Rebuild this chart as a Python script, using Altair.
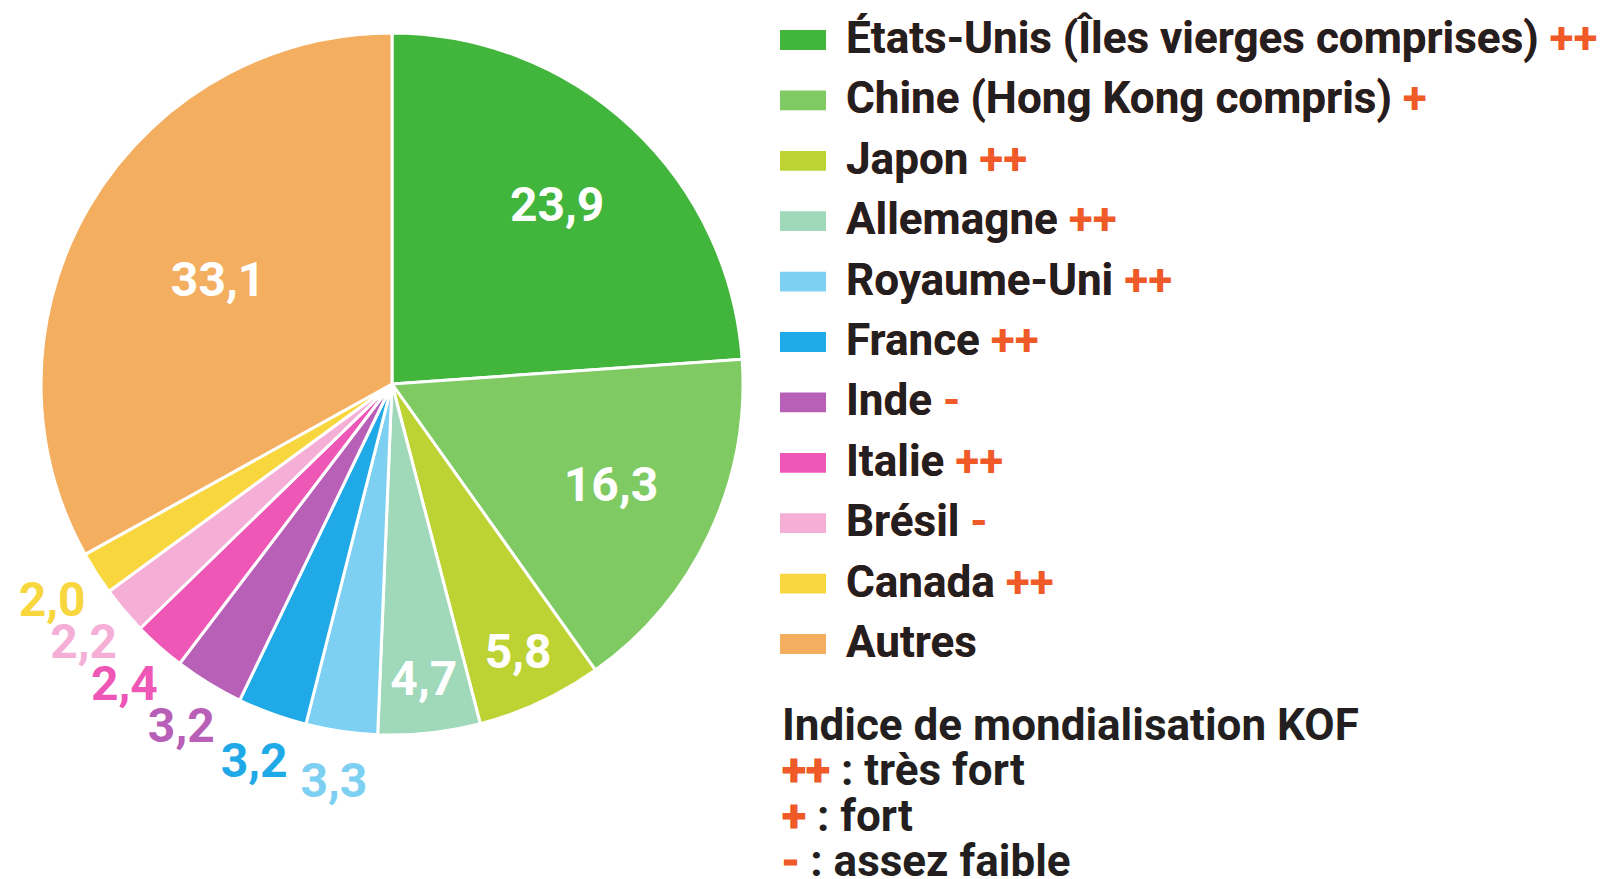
import altair as alt
import pandas as pd
import math

# ---- data ----
categories = [
    "États-Unis (Îles vierges comprises)",
    "Chine (Hong Kong compris)",
    "Japon",
    "Allemagne",
    "Royaume-Uni",
    "France",
    "Inde",
    "Italie",
    "Brésil",
    "Canada",
    "Autres",
]
values = [23.9, 16.3, 5.8, 4.7, 3.3, 3.2, 3.2, 2.4, 2.2, 2.0, 33.1]
kof_marks = ["++", "+", "++", "++", "++", "++", "-", "++", "-", "++", ""]
colors = [
    "#42b53c", "#7fca62", "#bdd333", "#9fd9ba", "#7ed0f3", "#1fa9e6",
    "#b85fb8", "#ee57b6", "#f5afd7", "#f8d73e", "#f4ae60",
]
kof_title = "Indice de mondialisation KOF"
kof_keys = ["++", "+", "-"]
kof_meanings = ["très fort", "fort", "assez faible"]

# ---- layout / style ----
FONT = "Roboto"
ORANGE = "#f05a28"
DARK = "#231f20"
CX, CY, R = 392, 384, 351
INSIDE_MIN = 4.5


def label_radius(v):
    """Radial position of a slice's label, as a rule on slice size."""
    if v < INSIDE_MIN:
        return R * 1.15       # outside the pie
    if v < 10:
        return R * 0.85       # thin slices: near the rim
    if v < 30:
        return R * 0.69
    return R * 0.575


df = pd.DataFrame({"category": categories, "value": values, "color": colors})
df["order"] = range(len(df))
total = float(df["value"].sum())
df["mid"] = df["value"].cumsum() - df["value"] / 2
df["label"] = [f"{v:.1f}".replace(".", ",") for v in values]
df["label_r"] = [label_radius(v) for v in values]
df["label_color"] = ["white" if v >= INSIDE_MIN else c for v, c in zip(values, colors)]
df["full"] = [c + (" " + k if k else "") for c, k in zip(categories, kof_marks)]

color_scale = alt.Scale(domain=categories, range=colors)

base = alt.Chart(df)

pie = base.mark_arc(radius=R, stroke="white", strokeWidth=3).encode(
    theta=alt.Theta("value:Q", stack=True),
    color=alt.Color("category:N", scale=color_scale, legend=None),
    order=alt.Order("order:Q"),
    x=alt.value(CX),
    y=alt.value(CY),
)

labels = base.mark_text(font=FONT, fontWeight="bold", fontSize=48,
                        align="center", baseline="middle").encode(
    theta=alt.Theta("mid:Q", stack=None,
                    scale=alt.Scale(domain=[0, total], range=[0, 2 * math.pi])),
    radius=alt.Radius("label_r:Q", scale=None),
    text="label:N",
    fill=alt.Fill("label_color:N", scale=None),
    x=alt.value(CX),
    y=alt.value(CY),
)

leg_y = alt.Y("category:N", scale=alt.Scale(type="point", domain=categories,
                                             range=[40, 644], padding=0), axis=None)

swatch = base.mark_point(
    shape="M-1,-0.43L1,-0.43L1,0.43L-1,0.43Z", filled=True, size=46 * 46,
    opacity=1, strokeWidth=0,
).encode(
    x=alt.value(803),
    y=leg_y,
    color=alt.Color("category:N", scale=color_scale, legend=None),
)

LEG_FS = 44
leg_text_orange = base.mark_text(font=FONT, fontWeight="bold", fontSize=LEG_FS,
                                 align="left", baseline="middle", color=ORANGE).encode(
    x=alt.value(846), y=leg_y, text="full:N")
leg_text_dark = base.mark_text(font=FONT, fontWeight="bold", fontSize=LEG_FS,
                               align="left", baseline="middle", color=DARK).encode(
    x=alt.value(846), y=leg_y, text="category:N")

kdf = pd.DataFrame({
    "row": ["r0", "r1", "r2", "r3"],
    "full": [kof_title] + [f"{k} : {m}" for k, m in zip(kof_keys, kof_meanings)],
    "key": [""] + kof_keys,
})
kof_y = alt.Y("row:N", scale=alt.Scale(type="point", domain=list(kdf["row"]),
                                        range=[727, 863], padding=0), axis=None)
kbase = alt.Chart(kdf)
kof_dark = kbase.mark_text(font=FONT, fontWeight="bold", fontSize=LEG_FS,
                           align="left", baseline="middle", color=DARK).encode(
    x=alt.value(782), y=kof_y, text="full:N")
kof_orange = kbase.mark_text(font=FONT, fontWeight="bold", fontSize=LEG_FS,
                             align="left", baseline="middle", color=ORANGE,
                             stroke=ORANGE, strokeWidth=1).encode(
    x=alt.value(782), y=kof_y, text="key:N")

chart = alt.layer(
    pie, labels, swatch, leg_text_orange, leg_text_dark, kof_dark, kof_orange
).resolve_scale(y="independent", theta="independent").properties(
    width=1602, height=879,
    autosize=alt.AutoSizeParams(type="none"),
    padding=0,
    background="white",
).configure_view(stroke=None)

chart.save("out.html", embed_options={"renderer": "svg", "actions": False})
